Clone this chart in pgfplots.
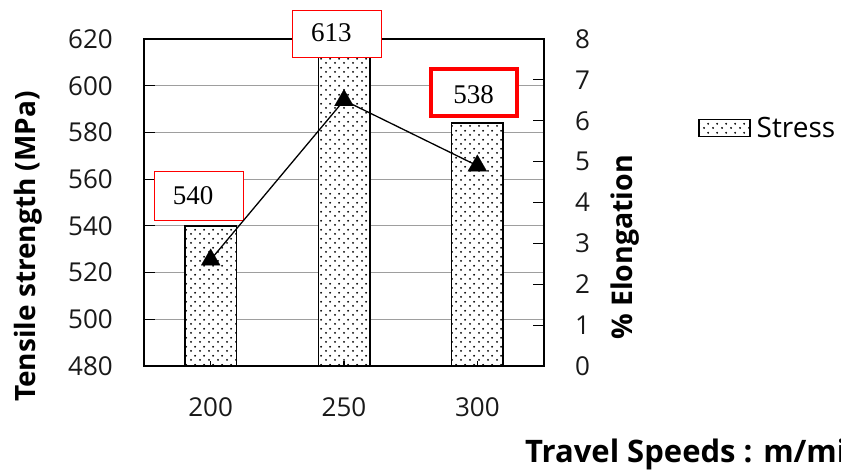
\documentclass[border=0pt]{standalone}
\usepackage{pgfplots}
\pgfplotsset{compat=1.18}
\usepackage{fontspec}
\setmainfont{Open Sans}
\setsansfont{Open Sans}
\newfontfamily\boxfont{Liberation Serif}
\usetikzlibrary{patterns.meta}

% staggered dot fill used for the stress bars
\tikzdeclarepattern{
  name=stressdots,
  type=uncolored,
  bounding box={(0pt,0pt) and (9pt,8.6pt)},
  tile size={(9pt,8.6pt)},
  code={
    \fill (2.25pt,2.15pt) circle (1.1pt);
    \fill (6.75pt,6.45pt) circle (1.1pt);
  }
}

\pgfplotsset{
  stress legend/.style={
    legend image code/.code={\draw[##1] (0pt,-8.5pt) rectangle (51pt,8.5pt);}
  }
}

\newcommand\ticksize{\fontsize{26}{30}\selectfont}

\begin{document}
\begin{tikzpicture}
% tensile strength (bars, left axis)
\begin{axis}[
  at={(144pt,108pt)}, anchor=south west,
  scale only axis, width=400pt, height=327pt,
  xmin=-0.5, xmax=2.5, ymin=480, ymax=620,
  xtick={0,1,2}, xticklabels={200,250,300},
  ytick={480,500,...,620},
  ytick pos=left,
  tick align=inside,
  major tick length=11pt,
  xtick style={draw=none},
  ytick style={black, line width=1.2pt},
  ymajorgrids, grid style={color=black!38, line width=1.2pt},
  axis line style={black, line width=1.8pt},
  clip mode=individual,
  /pgf/number format/assume math mode=true,
  /pgf/number format/1000 sep={},
  tick label style={font=\ticksize, inner sep=0pt, text=black!90},
  yticklabel style={xshift=-31pt},
  xticklabel style={yshift=-31pt},
  legend style={at={(1.385,0.728)}, anchor=west, draw=none, fill=none,
    inner sep=0pt, font=\fontsize{28}{32}\selectfont,
    /tikz/every odd column/.append style={column sep=4pt}},
]
\addplot[ybar, bar width=51.5pt, draw=black, line width=1.5pt, fill=white,
  postaction={pattern=stressdots, pattern color=black}, stress legend]
  coordinates {(0,540) (1,613) (2,584)};
\addlegendentry{Stress}

% value boxes
\node[draw=red, line width=1pt, fill=white, minimum width=89pt, minimum height=49pt, inner sep=0pt]
  at (axis cs:-0.09,552.8) {};
\node[font=\boxfont\fontsize{27}{30}\selectfont, inner sep=0pt] at (axis cs:-0.131,552.8) {540};
\node[draw=red, line width=1pt, fill=white, minimum width=89pt, minimum height=47pt, inner sep=0pt]
  at (axis cs:0.945,622.1) {};
\node[font=\boxfont\fontsize{27}{30}\selectfont, inner sep=0pt] at (axis cs:0.905,622.6) {613};
\node[draw=red, line width=4pt, fill=white, minimum width=86pt, minimum height=47.6pt, inner sep=0pt]
  at (axis cs:1.973,597.1) {};
\node[font=\boxfont\fontsize{27}{30}\selectfont, inner sep=0pt] at (axis cs:1.973,596.0) {538};
\end{axis}

% elongation (line, right axis)
\begin{axis}[
  at={(144pt,108pt)}, anchor=south west,
  scale only axis, width=400pt, height=327pt,
  xmin=-0.5, xmax=2.5, ymin=0, ymax=8,
  axis y line*=right, axis x line*=bottom,
  xtick={0,1,2}, xticklabels={},
  xtick style={/pgfplots/major tick length=5pt},
  ytick={0,...,8},
  tick align=inside, major tick length=11pt,
  axis line style={black, line width=1.8pt},
  tick style={black, line width=1.2pt},
  /pgf/number format/assume math mode=true,
  tick label style={font=\ticksize, inner sep=0pt, text=black!90},
  yticklabel style={xshift=31pt},
]
\addplot[black, line width=1.3pt, mark=triangle*, mark size=11pt,
  mark options={fill=black, draw=black, line width=0.1pt}]
  coordinates {(0,2.6) (1,6.5) (2,4.9)};
\end{axis}

\node[rotate=90, font=\bfseries\fontsize{28}{32}\selectfont] at (28pt,227.5pt) {Tensile strength (MPa)};
\node[rotate=90, font=\bfseries\fontsize{28.5}{32}\selectfont] at (625pt,226.5pt) {\% Elongation};
\node[anchor=base west, inner sep=0pt, font=\bfseries\fontsize{31}{36}\selectfont] at (525pt,11pt) {Travel Speeds : m/min};

\pgfresetboundingbox
\useasboundingbox (0pt,0pt) rectangle (841pt,474pt);
\end{tikzpicture}
\end{document}
